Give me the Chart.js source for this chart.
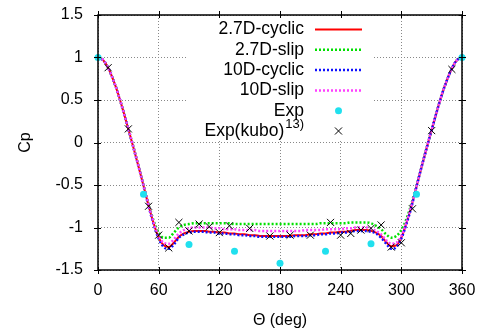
<!DOCTYPE html>
<html>
<head>
<meta charset="utf-8">
<script src="https://cdn.jsdelivr.net/npm/chart.js@4.4.1/dist/chart.umd.min.js"></script>
<style>
  html, body { margin: 0; padding: 0; background: #fff; }
  #wrap { width: 485px; height: 334px; }
</style>
</head>
<body>
<div id="wrap"><canvas id="chart" width="485" height="334"></canvas></div>
<script>
// angle (deg) for the computed Cp curves, every 5 degrees
let theta = [0,5,10,15,20,25,30,35,40,45,50,55,60,65,70,75,80,85,90,95,100,105,110,115,120,125,130,135,140,145,150,155,160,165,170,175,180,
  185,190,195,200,205,210,215,220,225,230,235,240,245,250,255,260,265,270,275,280,285,290,295,300,305,310,315,320,325,330,335,340,345,350,355,360]

let cyclic27 = [1.00,0.97,0.88,0.74,0.57,0.37,0.16,-0.06,-0.28,-0.51,-0.74,-0.95,-1.12,-1.21,-1.23,-1.18,-1.11,-1.07,-1.05,-1.04,-1.04,-1.04,-1.05,-1.05,-1.06,-1.06,-1.07,-1.07,-1.08,-1.08,-1.09,-1.09,-1.10,-1.10,-1.10,-1.10,-1.10,
  -1.10,-1.10,-1.09,-1.09,-1.09,-1.08,-1.08,-1.07,-1.07,-1.06,-1.06,-1.05,-1.05,-1.04,-1.03,-1.03,-1.03,-1.04,-1.06,-1.10,-1.17,-1.22,-1.21,-1.12,-0.95,-0.75,-0.52,-0.29,-0.07,0.15,0.36,0.56,0.73,0.87,0.97,1.00]

let slip27 = [1.00,0.97,0.88,0.74,0.57,0.37,0.16,-0.05,-0.27,-0.50,-0.72,-0.92,-1.06,-1.12,-1.12,-1.06,-1.00,-0.97,-0.96,-0.95,-0.95,-0.95,-0.95,-0.95,-0.95,-0.95,-0.95,-0.96,-0.96,-0.96,-0.96,-0.96,-0.96,-0.96,-0.96,-0.96,-0.96,
  -0.96,-0.96,-0.96,-0.96,-0.96,-0.96,-0.96,-0.95,-0.95,-0.95,-0.95,-0.95,-0.95,-0.94,-0.94,-0.94,-0.94,-0.95,-0.98,-1.02,-1.08,-1.12,-1.10,-1.03,-0.90,-0.72,-0.50,-0.28,-0.06,0.15,0.36,0.56,0.73,0.87,0.97,1.00]

let cyclic10 = [1.00,0.97,0.88,0.74,0.57,0.37,0.16,-0.06,-0.28,-0.51,-0.75,-0.96,-1.13,-1.23,-1.25,-1.20,-1.12,-1.08,-1.06,-1.05,-1.05,-1.05,-1.06,-1.06,-1.07,-1.07,-1.08,-1.08,-1.09,-1.09,-1.10,-1.10,-1.11,-1.11,-1.11,-1.11,-1.11,
  -1.11,-1.11,-1.10,-1.10,-1.10,-1.09,-1.09,-1.08,-1.08,-1.07,-1.07,-1.06,-1.06,-1.05,-1.04,-1.04,-1.04,-1.05,-1.07,-1.12,-1.19,-1.25,-1.23,-1.13,-0.96,-0.76,-0.52,-0.29,-0.07,0.15,0.36,0.56,0.73,0.87,0.97,1.00]

let slip10 = [1.00,0.97,0.88,0.74,0.57,0.37,0.16,-0.05,-0.27,-0.50,-0.73,-0.94,-1.10,-1.18,-1.19,-1.14,-1.07,-1.03,-1.01,-1.00,-1.00,-1.00,-1.00,-1.01,-1.01,-1.02,-1.02,-1.02,-1.03,-1.03,-1.03,-1.03,-1.04,-1.04,-1.04,-1.04,-1.04,
  -1.04,-1.04,-1.04,-1.04,-1.03,-1.03,-1.03,-1.03,-1.02,-1.02,-1.02,-1.02,-1.01,-1.01,-1.00,-1.00,-1.00,-1.01,-1.04,-1.08,-1.15,-1.19,-1.18,-1.10,-0.94,-0.74,-0.51,-0.28,-0.06,0.15,0.36,0.56,0.73,0.87,0.97,1.00]

// measured values
let expTheta = [0,45,90,135,180,225,270,315,360]
let expCp = [1.00,-0.61,-1.20,-1.28,-1.42,-1.28,-1.19,-0.61,1.00]

let kuboTheta = [10,30,50,60,70,80,90,100,110,120,130,150,170,190,210,230,240,250,260,270,280,290,300,311,330,350]
let kuboCp = [0.88,0.16,-0.75,-1.09,-1.24,-0.94,-1.04,-0.96,-0.99,-1.06,-0.98,-1.01,-1.10,-1.09,-1.09,-0.94,-1.09,-1.07,-1.03,-1.01,-0.97,-1.23,-1.18,-0.78,0.14,0.86]

let xTicks = [0,60,120,180,240,300,360]
let yTicks = [-1.5,-1,-0.5,0,0.5,1,1.5]

const pts = (xs, ys) => xs.map((x, i) => ({ x: x, y: ys[i] }))
const FONT = 'Liberation Sans, Arial, sans-serif'

function curve(label, ys, color, dash, order) {
  return {
    label: label, data: pts(theta, ys), showLine: true, pointRadius: 0,
    borderColor: color, backgroundColor: color, borderWidth: dash ? 2.5 : 2,
    borderDash: dash || [], cubicInterpolationMode: 'monotone', order: order
  }
}

const datasets = [
  curve('2.7D-cyclic', cyclic27, '#ff0000', null, 6),
  curve('2.7D-slip', slip27, '#00e000', [2, 2], 5),
  curve('10D-cyclic', cyclic10, '#1010ff', [2, 2], 4),
  curve('10D-slip', slip10, '#ff40ff', [2, 2], 3),
  { label: 'Exp', data: pts(expTheta, expCp), pointStyle: 'circle', pointRadius: 3.5, clip: false,
    backgroundColor: '#20e0ee', borderColor: '#20e0ee', borderWidth: 0, order: 2 },
  { label: 'Exp(kubo)', data: pts(kuboTheta, kuboCp), pointStyle: 'crossRot', pointRadius: 5,
    borderColor: '#000', borderWidth: 1, order: 1 }
]

// frame, tick marks, and the key box in the upper right
const gnuplotLook = {
  id: 'gnuplotLook',
  beforeDatasetsDraw(chart) {
    const ctx = chart.ctx
    ctx.save()
    ctx.fillStyle = '#fff'
    ctx.fillRect(188, 18, 184, 122)
    ctx.restore()
  },
  afterDatasetsDraw(chart) {
    const ctx = chart.ctx
    const a = chart.chartArea
    const xs = chart.scales.x, ys = chart.scales.y
    ctx.save()
    ctx.strokeStyle = '#000'
    ctx.lineWidth = 1.5
    ctx.strokeRect(a.left, a.top, a.right - a.left, a.bottom - a.top)
    ctx.lineWidth = 1
    ctx.beginPath()
    xTicks.forEach(v => {
      const px = Math.round(xs.getPixelForValue(v)) + 0.5
      ctx.moveTo(px, a.bottom - 3); ctx.lineTo(px, a.bottom + 4)
      ctx.moveTo(px, a.top - 4); ctx.lineTo(px, a.top + 3)
    })
    yTicks.forEach(v => {
      const py = Math.round(ys.getPixelForValue(v)) + 0.5
      ctx.moveTo(a.left - 4, py); ctx.lineTo(a.left + 3, py)
      ctx.moveTo(a.right - 3, py); ctx.lineTo(a.right + 4, py)
    })
    ctx.stroke()

    // key
    const textRight = 304, s0 = 315, s1 = 362, rowH = 20.3, y0 = 29.5
    const big = '17.5px ' + FONT
    ctx.font = big
    ctx.textBaseline = 'middle'
    ctx.fillStyle = '#000'
    chart.data.datasets.forEach((ds, i) => {
      const y = y0 + i * rowH
      ctx.textAlign = 'right'
      if (ds.label === 'Exp(kubo)') {
        ctx.font = '13px ' + FONT
        const supW = ctx.measureText('13)').width
        ctx.fillText('13)', textRight, y - 7)
        ctx.font = big
        ctx.fillText(ds.label, textRight - supW - 1, y)
      } else {
        ctx.fillText(ds.label, textRight, y)
      }
      const mid = (s0 + s1) / 2
      if (ds.showLine) {
        ctx.strokeStyle = ds.borderColor
        ctx.lineWidth = ds.borderWidth
        ctx.setLineDash(ds.borderDash)
        ctx.beginPath(); ctx.moveTo(s0, y); ctx.lineTo(s1, y); ctx.stroke()
        ctx.setLineDash([])
      } else if (ds.pointStyle === 'circle') {
        ctx.fillStyle = ds.backgroundColor
        ctx.beginPath(); ctx.arc(mid, y, ds.pointRadius, 0, Math.PI * 2); ctx.fill()
        ctx.fillStyle = '#000'
      } else {
        const r = ds.pointRadius * Math.SQRT1_2
        ctx.strokeStyle = '#000'; ctx.lineWidth = 1
        ctx.beginPath()
        ctx.moveTo(mid - r, y - r); ctx.lineTo(mid + r, y + r)
        ctx.moveTo(mid - r, y + r); ctx.lineTo(mid + r, y - r)
        ctx.stroke()
      }
    })
    ctx.restore()
  }
}

const ctx = document.getElementById('chart').getContext('2d')
new Chart(ctx, {
  type: 'scatter',
  data: { datasets: datasets },
  options: {
    responsive: false,
    animation: false,
    events: [],
    layout: { padding: { top: 15, right: 23, bottom: 0, left: 0 } },
    plugins: { legend: { display: false }, tooltip: { enabled: false } },
    scales: {
      x: {
        min: 0, max: 360,
        afterBuildTicks: s => { s.ticks = xTicks.map(v => ({ value: v })) },
        afterFit: s => { s.height = 64; s.paddingLeft = 0; s.paddingRight = 0 },
        ticks: { color: '#000', font: { family: FONT, size: 16 }, padding: 11, maxRotation: 0 },
        grid: { color: '#888', drawTicks: false, lineWidth: 1 },
        border: { display: false, dash: [1, 2] },
        title: { display: true, text: 'Θ (deg)', color: '#000', font: { family: FONT, size: 16 }, padding: { top: 0, bottom: 4 } }
      },
      y: {
        min: -1.5, max: 1.5,
        afterBuildTicks: s => { s.ticks = yTicks.map(v => ({ value: v })) },
        afterFit: s => { s.width = 98; s.paddingTop = 0; s.paddingBottom = 0 },
        ticks: { color: '#000', font: { family: FONT, size: 16 }, padding: 15, callback: v => String(v) },
        grid: { color: '#888', drawTicks: false, lineWidth: 1 },
        border: { display: false, dash: [1, 2] },
        title: { display: true, text: 'Cp', color: '#000', font: { family: FONT, size: 16 }, padding: { top: 16, bottom: 0 } }
      }
    }
  },
  plugins: [gnuplotLook]
})
</script>
</body>
</html>
